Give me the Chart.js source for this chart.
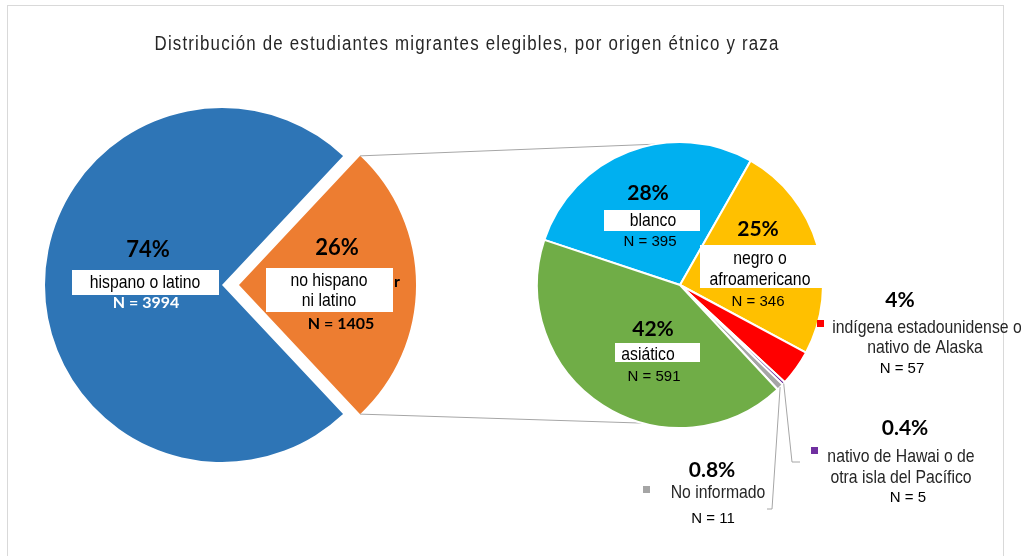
<!DOCTYPE html>
<html>
<head>
<meta charset="utf-8">
<script src="https://cdn.jsdelivr.net/npm/chart.js@4"></script>
<style>
  body { margin: 0; background: #fff; }
  #wrap { position: relative; width: 1021px; height: 556px; overflow: hidden; }
  #frame { position: absolute; left: 7px; top: 5px; width: 995px; height: 570px; border: 1px solid #D9D9D9; }
  canvas { position: absolute; left: 0; top: 0; }
</style>
</head>
<body>
<div id="wrap">
  <div id="frame"></div>
  <canvas id="leftPie" width="1021" height="556"></canvas>
  <canvas id="rightPie" width="1021" height="556"></canvas>
</div>
<script>
// datos
const titulo = 'Distribución de estudiantes migrantes elegibles, por origen étnico y raza';
const origenLabels = ['hispano o latino', 'no hispano ni latino'];
const origenN = [3994, 1405];
const origenColors = ['#2E75B6', '#ED7D31'];

const razaLabels = ['blanco', 'negro o afroamericano', 'indígena estadounidense o nativo de Alaska',
  'nativo de Hawai o de otra isla del Pacífico', 'No informado', 'asiático'];
const razaN = [395, 346, 57, 5, 11, 591];
const razaColors = ['#00B0F0', '#FFC000', '#FF0000', '#7030A0', '#A5A5A5', '#70AD47'];

const EXPLODE = 17; // separacion de la porcion naranja en px

// Arial Narrow no esta instalada: Liberation Sans comprimida en horizontal
const T = '19px "Liberation Sans", Arial, sans-serif';
const NX = 0.83;
const BOLD = 'bold 22px Lato, "Open Sans", sans-serif';

function pct(v, arr) {
  const p = v / arr.reduce((a, b) => a + b, 0) * 100;
  return (p < 1 ? p.toFixed(1) : Math.round(p)) + '%';
}

function txt(ctx, s, x, y, font, color, sx) {
  ctx.save();
  ctx.font = font;
  ctx.fillStyle = color;
  ctx.textAlign = 'center';
  ctx.textBaseline = 'middle';
  ctx.translate(x, y);
  ctx.scale(sx || 1, 1);
  ctx.fillText(s, 0, 0);
  ctx.restore();
}

function box(ctx, x, y, w, h) {
  ctx.fillStyle = '#fff';
  ctx.fillRect(x, y, w, h);
}

// etiquetas del pastel izquierdo
const leftLabels = {
  id: 'leftLabels',
  afterDatasetsDraw(chart) {
    const ctx = chart.ctx;
    txt(ctx, pct(origenN[0], origenN), 148, 250, BOLD, '#000');
    box(ctx, 72, 270, 147, 25);
    txt(ctx, 'hispano o latino', 145, 283, T, '#000', NX);
    txt(ctx, 'N = ' + origenN[0], 146, 303, 'bold 16px Lato, sans-serif', '#fff');

    txt(ctx, pct(origenN[1], origenN), 337, 248, BOLD, '#000');
    txt(ctx, 'r', 397, 282, 'bold 16px Lato, sans-serif', '#000');
    box(ctx, 266, 268, 127, 44);
    txt(ctx, 'no hispano', 329, 281, T, '#000', NX);
    txt(ctx, 'ni latino', 329, 301, T, '#000', NX);
    txt(ctx, 'N = ' + origenN[1], 341, 324, 'bold 16px Lato, sans-serif', '#000');
  }
};

const leftChart = new Chart(document.getElementById('leftPie'), {
  type: 'pie',
  data: {
    labels: origenLabels,
    datasets: [{
      data: origenN,
      backgroundColor: origenColors,
      borderWidth: 0,
      offset: [0, EXPLODE * 4] // chart.js desplaza offset/4
    }]
  },
  options: {
    responsive: false,
    animation: false,
    events: [],
    // la porcion naranja queda centrada a la derecha
    rotation: 90 + origenN[1] / (origenN[0] + origenN[1]) * 180,
    radius: 177,
    layout: { padding: { left: 45, top: 108, right: 622, bottom: 94 } },
    plugins: { legend: { display: false }, tooltip: { enabled: false } }
  },
  plugins: [leftLabels]
});

// lineas de conexion, titulo y etiquetas del pastel derecho
const rightLabels = {
  id: 'rightLabels',
  beforeDatasetsDraw(chart) {
    const ctx = chart.ctx;
    const o = leftChart.getDatasetMeta(0).data[1];
    const mid = (o.startAngle + o.endAngle) / 2;
    const ox = o.x + EXPLODE * Math.cos(mid), oy = o.y + EXPLODE * Math.sin(mid);
    const p = chart.getDatasetMeta(0).data[0];
    const r = p.outerRadius;
    const a1 = -100 * Math.PI / 180, a2 = 105 * Math.PI / 180;
    ctx.save();
    ctx.strokeStyle = '#A6A6A6';
    ctx.lineWidth = 1;
    ctx.beginPath();
    ctx.moveTo(ox + o.outerRadius * Math.cos(o.startAngle), oy + o.outerRadius * Math.sin(o.startAngle));
    ctx.lineTo(p.x + r * Math.cos(a1), p.y + r * Math.sin(a1));
    ctx.moveTo(ox + o.outerRadius * Math.cos(o.endAngle), oy + o.outerRadius * Math.sin(o.endAngle));
    ctx.lineTo(p.x + r * Math.cos(a2), p.y + r * Math.sin(a2));
    ctx.stroke();
    ctx.restore();
  },
  afterDatasetsDraw(chart) {
    const ctx = chart.ctx;
    const arcs = chart.getDatasetMeta(0).data;

    // titulo: letra estrecha con algo de espaciado, ajustada a 625px de ancho
    ctx.save();
    ctx.font = '20px "Liberation Sans", Arial, sans-serif';
    ctx.letterSpacing = '1.4px';
    const tw = ctx.measureText(titulo).width;
    ctx.fillStyle = '#262626';
    ctx.textAlign = 'left';
    ctx.textBaseline = 'middle';
    ctx.translate(467 - 625 / 2, 44);
    ctx.scale(625 / tw, 1);
    ctx.fillText(titulo, 0, 0);
    ctx.restore();

    // lineas guia de las porciones pequenas
    const edge = (a) => {
      const m = (a.startAngle + a.endAngle) / 2;
      return [a.x + a.outerRadius * Math.cos(m), a.y + a.outerRadius * Math.sin(m)];
    };
    ctx.save();
    ctx.strokeStyle = '#A6A6A6';
    ctx.lineWidth = 1;
    let e = edge(arcs[4]);
    ctx.beginPath();
    ctx.moveTo(e[0], e[1]); ctx.lineTo(772, 509); ctx.lineTo(767, 509);
    e = edge(arcs[3]);
    ctx.moveTo(e[0], e[1]); ctx.lineTo(792, 462); ctx.lineTo(800, 462);
    ctx.stroke();
    ctx.restore();

    const B = 'bold 21px Lato, "Open Sans", sans-serif';
    const N = '15px "Liberation Sans", Arial, sans-serif';

    txt(ctx, pct(razaN[0], razaN), 648, 193, B, '#000');
    box(ctx, 604, 210, 96, 21);
    txt(ctx, 'blanco', 653, 221, T, '#000', NX);
    txt(ctx, 'N = ' + razaN[0], 650, 242, N, '#000');

    txt(ctx, pct(razaN[1], razaN), 758, 229, B, '#000');
    box(ctx, 700, 245, 122, 43);
    txt(ctx, 'negro o', 760, 259, T, '#000', NX);
    txt(ctx, 'afroamericano', 760, 280, T, '#000', NX);
    txt(ctx, 'N = ' + razaN[1], 758, 302, N, '#000');

    txt(ctx, pct(razaN[5], razaN), 653, 329, B, '#000');
    box(ctx, 615, 343, 85, 19);
    txt(ctx, 'asiático', 648, 355, T, '#000', NX);
    txt(ctx, 'N = ' + razaN[5], 654, 377, N, '#000');

    txt(ctx, pct(razaN[2], razaN), 900, 300, B, '#000');
    ctx.fillStyle = razaColors[2]; ctx.fillRect(817, 320, 7, 7);
    txt(ctx, 'indígena estadounidense o', 927, 328, T, '#262626', NX);
    txt(ctx, 'nativo de Alaska', 925, 348, T, '#262626', NX);
    txt(ctx, 'N = ' + razaN[2], 902, 369, N, '#000');

    txt(ctx, pct(razaN[3], razaN), 905, 428, B, '#000');
    ctx.fillStyle = razaColors[3]; ctx.fillRect(811, 447, 7, 7);
    txt(ctx, 'nativo de Hawai o de', 901, 457, T, '#262626', NX);
    txt(ctx, 'otra isla del Pacífico', 901, 478, T, '#262626', NX);
    txt(ctx, 'N = ' + razaN[3], 908, 498, N, '#000');

    txt(ctx, pct(razaN[4], razaN), 712, 470, B, '#000');
    ctx.fillStyle = razaColors[4]; ctx.fillRect(643, 486, 7, 7);
    txt(ctx, 'No informado', 718, 493, T, '#262626', NX);
    txt(ctx, 'N = ' + razaN[4], 713, 519, N, '#000');
  }
};

new Chart(document.getElementById('rightPie'), {
  type: 'pie',
  data: {
    labels: razaLabels,
    datasets: [{
      data: razaN,
      backgroundColor: razaColors,
      borderColor: '#fff',
      borderWidth: 2
    }]
  },
  options: {
    responsive: false,
    animation: false,
    events: [],
    rotation: 288.4,
    radius: 143,
    layout: { padding: { left: 537, top: 142, right: 198, bottom: 128 } },
    plugins: { legend: { display: false }, tooltip: { enabled: false } }
  },
  plugins: [rightLabels]
});
</script>
</body>
</html>
